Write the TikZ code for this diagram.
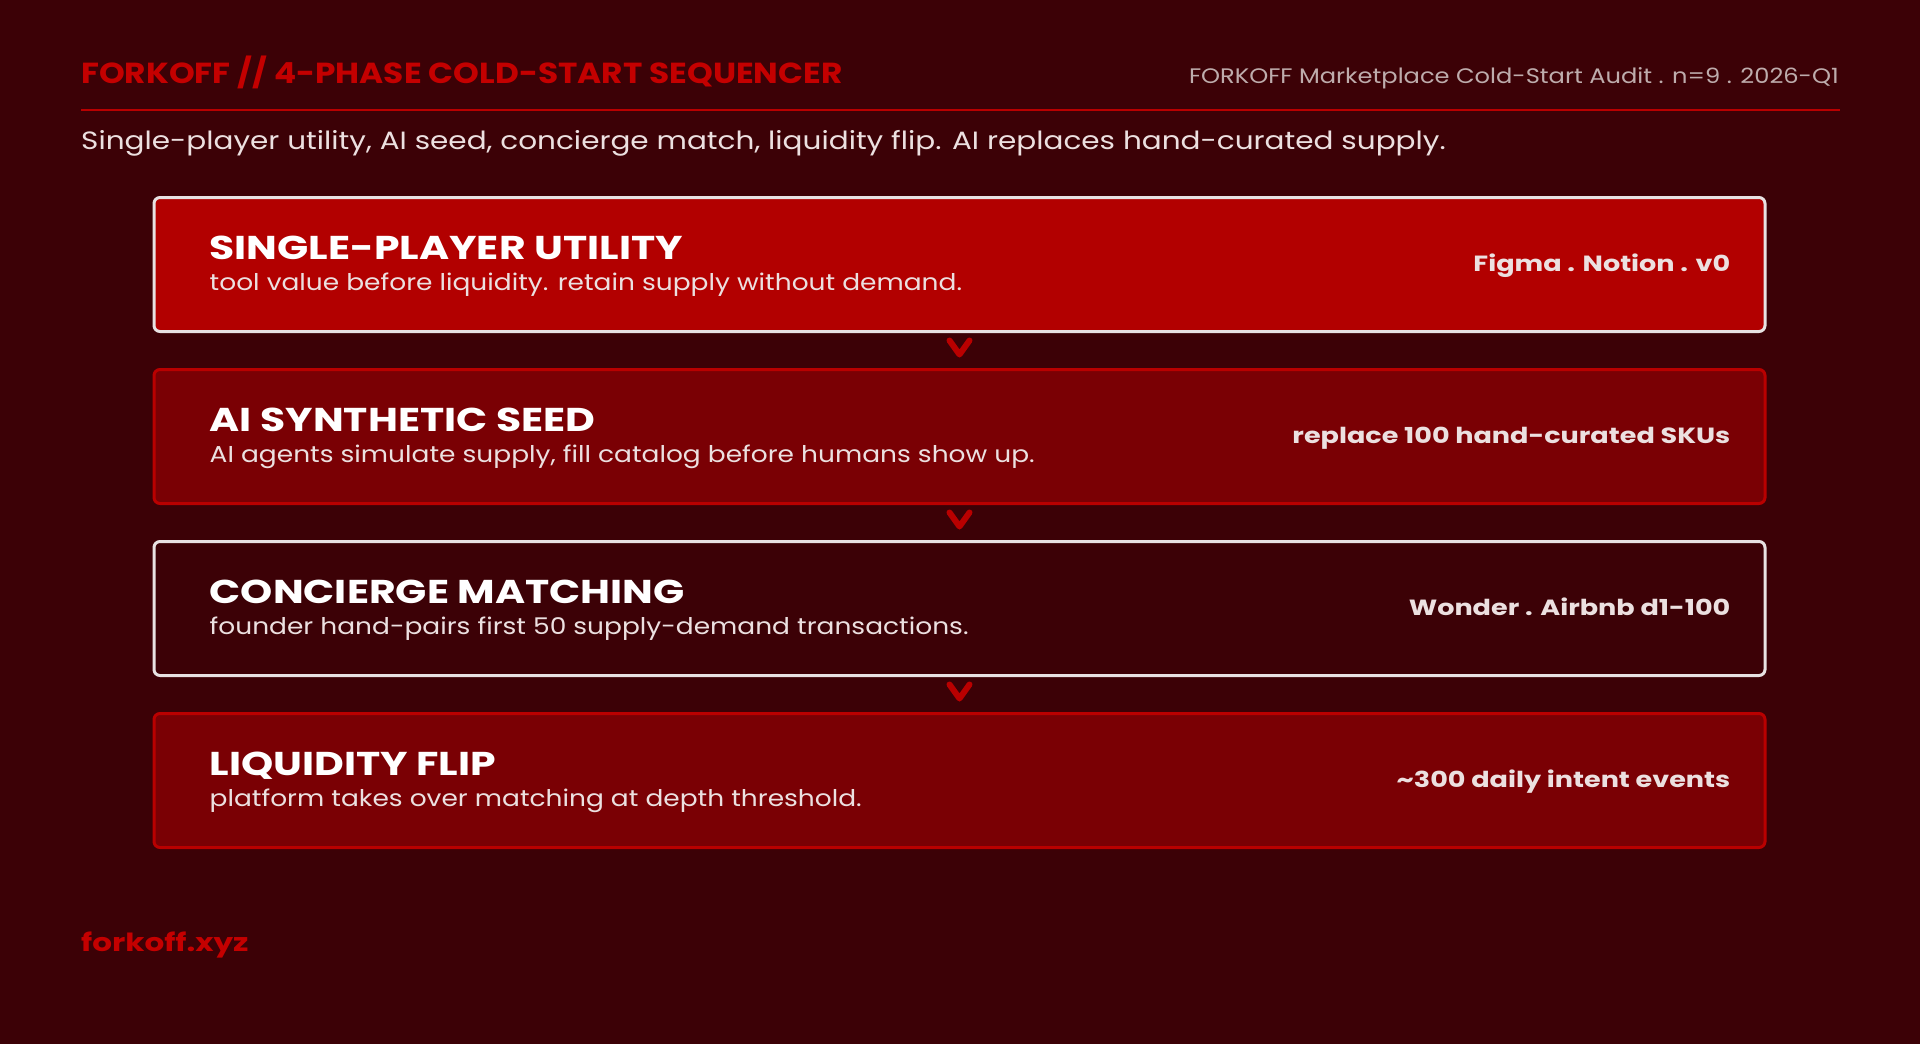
\documentclass[tikz,border=0pt]{standalone}
\usepackage{fontspec}
\setmainfont{Poppins}
\newfontfamily\fhead{Poppins}[FakeStretch=1.13]
\newfontfamily\fhr{Poppins}[FakeStretch=1.15]
\newfontfamily\fsub{Poppins}[FakeStretch=1.18]
\newfontfamily\fttl{Poppins}[FakeStretch=1.24]
\newfontfamily\fdesc{Poppins}[FakeStretch=1.15]
\newfontfamily\ftag{Poppins}[FakeStretch=1.23]
\usetikzlibrary{calc}
\definecolor{bgc}{RGB}{60,1,6}
\definecolor{redA}{RGB}{178,0,0}
\definecolor{redB}{RGB}{122,0,4}
\definecolor{redline}{RGB}{185,0,0}
\definecolor{titlered}{RGB}{196,0,0}
\definecolor{offwhite}{RGB}{232,226,226}
\definecolor{greytxt}{RGB}{190,172,172}
\definecolor{lighttxt}{RGB}{236,224,224}
\tikzset{
  phase/.style={rectangle, rounded corners=6pt, line width=3pt, minimum width=1611pt, minimum height=134pt, anchor=north west, inner sep=0pt},
  phaseA/.style={phase, fill=redA, draw=offwhite},
  phaseB/.style={phase, fill=redB, draw=redline},
  phaseC/.style={phase, fill=bgc, draw=offwhite},
  ptitle/.style={font=\fttl\bfseries\fontsize{33}{38}\selectfont, text=white, inner sep=0pt},
  pdesc/.style={font=\fdesc\fontsize{23}{28}\selectfont, text=lighttxt, inner sep=0pt},
  ptag/.style={font=\ftag\bfseries\fontsize{22}{26}\selectfont, text=lighttxt, inner sep=0pt},
  chev/.style={draw=redline, line width=6pt, line cap=round, line join=round},
}
\begin{document}
\begin{tikzpicture}[x=1pt,y=-1pt]
\fill[bgc] (0,0) rectangle (1920,1044);
\useasboundingbox (0,0) rectangle (1920,1044);

% header
\node[font=\fhead\bfseries\fontsize{29}{34}\selectfont, text=titlered, anchor=base west, inner sep=0pt] (hdr) at (81,83) {FORKOFF // 4-PHASE COLD-START SEQUENCER};
\node[font=\fhr\fontsize{21}{26}\selectfont, text=greytxt, anchor=base east, inner sep=0pt] (hdrr) at (1839,83) {FORKOFF Marketplace Cold-Start Audit . n=9 . 2026-Q1};
\coordinate (rl) at (81,110);
\coordinate (rr) at (1840,110);
\draw[redline, line width=2.5pt] (rl) -- (rr);
\node[font=\fsub\fontsize{25}{30}\selectfont, text=lighttxt, anchor=base west, inner sep=0pt] (sub) at (81,149) {Single-player utility, AI seed, concierge match, liquidity flip. AI replaces hand-curated supply.};

% boxes
\node[phaseA] (b1) at (152.5,196) {};
\node[phaseB] (b2) at (152.5,368) {};
\node[phaseC] (b3) at (152.5,540) {};
\node[phaseB] (b4) at (152.5,712) {};

\foreach \b/\t/\d/\g in {
  b1/{SINGLE-PLAYER UTILITY}/{tool value before liquidity. retain supply without demand.}/{Figma . Notion . v0},
  b2/{AI SYNTHETIC SEED}/{AI agents simulate supply, fill catalog before humans show up.}/{replace 100 hand-curated SKUs},
  b3/{CONCIERGE MATCHING}/{founder hand-pairs first 50 supply-demand transactions.}/{Wonder . Airbnb d1-100},
  b4/{LIQUIDITY FLIP}/{platform takes over matching at depth threshold.}/{\textasciitilde300 daily intent events}}{
  \node[ptitle, anchor=base west] (\b t) at ([xshift=57pt,yshift=-63pt]\b.north west) {\t};
  \node[pdesc, anchor=base west] (\b d) at ([xshift=57pt,yshift=-94pt]\b.north west) {\d};
  \node[ptag, anchor=base east] (\b g) at ([xshift=-36pt,yshift=-75pt]\b.north east) {\g};
}

% chevrons
\foreach \a/\c in {b1/b2, b2/b3, b3/b4}{
  \coordinate (m\a) at ($(\a.south)!0.5!(\c.north)+(0,-3)$);
  \draw[chev] ($(m\a)+(-10,-7)$) -- ($(m\a)+(0,7)$) -- ($(m\a)+(10,-7)$);
}

% footer
\node[font=\fttl\bfseries\fontsize{25}{30}\selectfont, text=titlered, anchor=base west, inner sep=0pt] (foot) at (81,951) {forkoff.xyz};
\end{tikzpicture}
\end{document}
